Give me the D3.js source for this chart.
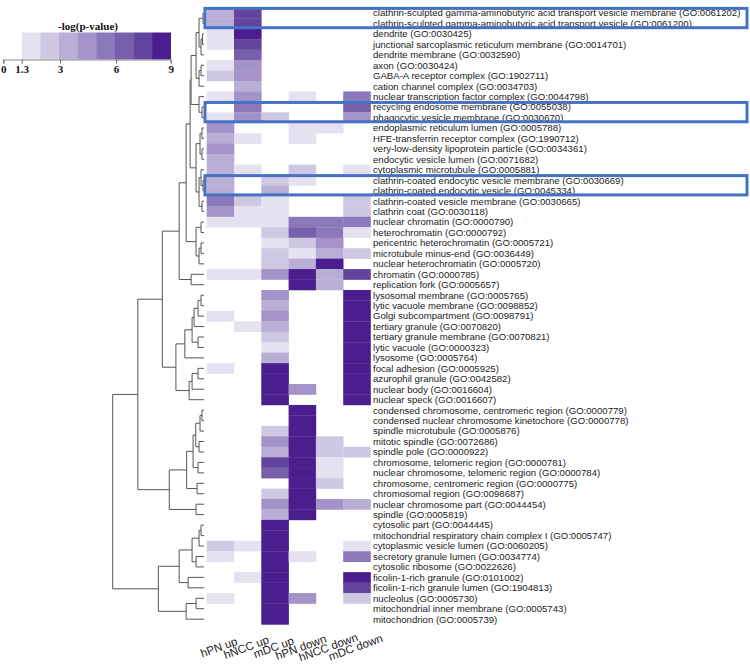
<!DOCTYPE html>
<html><head><meta charset="utf-8">
<script src="https://cdn.jsdelivr.net/npm/d3@7"></script>
<style>body{margin:0;background:#fff}svg{display:block}</style>
</head><body>
<svg id="c" width="750" height="667"></svg>
<script>
const terms = [
"clathrin-sculpted gamma-aminobutyric acid transport vesicle membrane (GO:0061202)",
"clathrin-sculpted gamma-aminobutyric acid transport vesicle (GO:0061200)",
"dendrite (GO:0030425)",
"junctional sarcoplasmic reticulum membrane (GO:0014701)",
"dendrite membrane (GO:0032590)",
"axon (GO:0030424)",
"GABA-A receptor complex (GO:1902711)",
"cation channel complex (GO:0034703)",
"nuclear transcription factor complex (GO:0044798)",
"recycling endosome membrane (GO:0055038)",
"phagocytic vesicle membrane (GO:0030670)",
"endoplasmic reticulum lumen (GO:0005788)",
"HFE-transferrin receptor complex (GO:1990712)",
"very-low-density lipoprotein particle (GO:0034361)",
"endocytic vesicle lumen (GO:0071682)",
"cytoplasmic microtubule (GO:0005881)",
"clathrin-coated endocytic vesicle membrane (GO:0030669)",
"clathrin-coated endocytic vesicle (GO:0045334)",
"clathrin-coated vesicle membrane (GO:0030665)",
"clathrin coat (GO:0030118)",
"nuclear chromatin (GO:0000790)",
"heterochromatin (GO:0000792)",
"pericentric heterochromatin (GO:0005721)",
"microtubule minus-end (GO:0036449)",
"nuclear heterochromatin (GO:0005720)",
"chromatin (GO:0000785)",
"replication fork (GO:0005657)",
"lysosomal membrane (GO:0005765)",
"lytic vacuole membrane (GO:0098852)",
"Golgi subcompartment (GO:0098791)",
"tertiary granule (GO:0070820)",
"tertiary granule membrane (GO:0070821)",
"lytic vacuole (GO:0000323)",
"lysosome (GO:0005764)",
"focal adhesion (GO:0005925)",
"azurophil granule (GO:0042582)",
"nuclear body (GO:0016604)",
"nuclear speck (GO:0016607)",
"condensed chromosome, centromeric region (GO:0000779)",
"condensed nuclear chromosome kinetochore (GO:0000778)",
"spindle microtubule (GO:0005876)",
"mitotic spindle (GO:0072686)",
"spindle pole (GO:0000922)",
"chromosome, telomeric region (GO:0000781)",
"nuclear chromosome, telomeric region (GO:0000784)",
"chromosome, centromeric region (GO:0000775)",
"chromosomal region (GO:0098687)",
"nuclear chromosome part (GO:0044454)",
"spindle (GO:0005819)",
"cytosolic part (GO:0044445)",
"mitochondrial respiratory chain complex I (GO:0005747)",
"cytoplasmic vesicle lumen (GO:0060205)",
"secretory granule lumen (GO:0034774)",
"cytosolic ribosome (GO:0022626)",
"ficolin-1-rich granule (GO:0101002)",
"ficolin-1-rich granule lumen (GO:1904813)",
"nucleolus (GO:0005730)",
"mitochondrial inner membrane (GO:0005743)",
"mitochondrion (GO:0005739)"
];

const samples = ["hPN up","hNCC up","mDC up","hPN down","hNCC down","mDC down"];

// -log(p-value) per sample, one value per term (0 = not significant)
const hPNup = [3.7,3.7,1.8,1.8,0,1.8,2.7,0,1.8,0,1.8,4.6,3.7,4.6,3.7,3.7,3.7,3.7,5.6,4.6,
  1.8,0,0,0,0,1.8,0,0,0,1.8,0,0,0,0,1.8,0,0,0,0,0,0,0,0,0,0,0,0,0,0,0,0,2.7,1.8,0,0,0,1.8,0,0];
const hNCCup = [7.5,7.5,9,7.5,6.6,4.6,4.6,3.7,4.6,5.6,4.6,0,1.8,0,0,1.8,0,0,2.7,1.8,
  1.8,0,0,0,0,1.8,0,0,0,0,1.8,0,0,0,0,0,0,0,0,0,0,0,0,0,0,0,0,0,0,0,0,1.8,0,0,1.8,0,0,0,0];
const mDCup = [0,0,0,0,0,0,0,0,0,0,2.7,0,0,0,0,0,2.7,3.7,1.8,1.8,
  1.8,2.7,1.8,2.7,2.7,4.6,0,4.6,3.7,4.6,3.7,2.7,1.8,3.7,9,9,9,9,0,0,2.7,4.6,3.7,7.5,6.6,0,2.7,4.6,3.7,
  9,9,9,9,9,9,9,9,9,9];
const hPNdown = [0,0,0,0,0,0,0,0,1.8,0,0,1.8,1.8,0,0,2.7,1.8,0,0,0,
  5.6,6.6,2.7,1.8,3.7,9,9,0,0,0,0,0,0,0,0,0,4.6,0,9,9,9,9,9,9,9,9,9,9,9,
  0,0,0,1.8,0,0,0,4.6,0,0];
const hNCCdown = [0,0,0,0,0,0,0,0,0,0,0,1.8,0,0,0,0,0,0,0,0,
  5.6,5.6,4.6,3.7,9,3.7,3.7,0,0,0,0,0,0,0,0,0,0,0,0,0,0,2.7,2.7,1.8,1.8,2.7,0,4.6,0,
  0,0,0,0,0,0,0,0,0,0];
const mDCdown = [0,0,0,0,0,0,0,0,5.6,6.6,4.6,0,0,0,0,1.8,0,0,2.7,2.7,
  5.6,1.8,0,2.7,0,7.5,0,9,9,9,9,9,9,9,9,9,9,9,0,0,0,0,2.7,0,0,0,0,3.7,0,
  0,0,1.8,5.6,0,9,7.5,2.7,0,0];
const seriesValues = [hPNup, hNCCup, mDCup, hPNdown, hNCCdown, mDCdown];

const legendTicks = [0, 1.3, 3, 6, 9];
const legendTitle = "-log(p-value)";
const colorSteps = ["#e6e1f0","#cfc8e3","#b8aed6","#a393c9","#8c79bb","#765fab","#62449e","#4a1e8e"];

// hierarchical clustering: [mergeHeight, left, right]; leaves are term indices
const dendrogram =
[92,
  [66.7,
    [42,
      [25,
        [18,
          [14,
            [13,
              [8,
                [5, [1,0,1], [3,[1.5,2,3],4]],
                [5, [3,5,6], 7]
              ],
              [5, 8, [2,9,10]]
            ],
            [8,
              [4, [2,11,12], [2,13,14]],
              [5, [3,15,[1,16,17]], [2,18,19]]
            ]
          ],
          [8, [3,20,21], [5,[3,22,23],24]]
        ],
        [13, 25, 26]
      ],
      [28.3,
        [19.3, [12, [10,[6,[3,27,28],29],30], [6,31,32]], 33],
        [15, [12, [6,34,35], 36], 37]
      ]
    ],
    [35,
      [17.5,
        [11,
          [8.3, [4,[2,38,39],40], [5,41,42]],
          [6,43,44]
        ],
        [7,45,46]
      ],
      [8,47,48]
    ]
  ],
  [46,
    [25,
      [12, [5,[3,49,50],51], [8,52,53]],
      [16,54,55]
    ],
    [18, [8,56,57], 58]
  ]
];

const highlighted = [[0,1],[9,10],[16,17]];

const svg = d3.select("#c");
const x = d3.scaleBand().domain(samples).range([206.7, 370.5]);
const y = d3.scaleBand().domain(d3.range(terms.length)).range([7.8, 624.4]);
const color = d3.scaleQuantize().domain([1.3, 9]).range(colorSteps);

// heatmap cells
const cells = [];
samples.forEach((s, j) => seriesValues[j].forEach((v, i) => { if (v >= 1.3) cells.push({s, i, v}); }));
svg.append("g").selectAll("rect").data(cells).join("rect")
  .attr("x", d => x(d.s)).attr("y", d => y(d.i))
  .attr("width", x.bandwidth()+0.3).attr("height", y.bandwidth()+0.3)
  .attr("fill", d => color(d.v));

// row labels
svg.append("g").selectAll("text").data(terms).join("text")
  .attr("x", 373).attr("y", (d, i) => y(i) + y.bandwidth()/2)
  .attr("dy", "0.35em")
  .attr("font-family", "Liberation Sans, Arial, sans-serif")
  .attr("font-size", 9.6).attr("fill", "#222")
  .text(d => d);

// column labels
svg.append("g").selectAll("text").data(samples).join("text")
  .attr("transform", d => `translate(${x(d)+x.bandwidth()/2},651) rotate(-20)`)
  .attr("text-anchor", "middle")
  .attr("font-family", "Liberation Sans, Arial, sans-serif")
  .attr("font-size", 11.5).attr("fill", "#222")
  .text(d => d);

// dendrogram
const dx = d3.scaleLinear().domain([0, 92]).range([204, 112.7]);
const dg = svg.append("g").attr("fill", "none").attr("stroke", "#555").attr("stroke-width", 1);
function layout(n) {
  if (typeof n === "number") return {x: dx(0), y: y(n) + y.bandwidth()/2};
  const a = layout(n[1]), b = layout(n[2]);
  const px = dx(n[0]);
  dg.append("path").attr("d", `M${a.x},${a.y}H${px}V${b.y}H${b.x}`);
  return {x: px, y: (a.y + b.y)/2};
}
layout(dendrogram);

// highlight boxes
svg.append("g").selectAll("rect").data(highlighted).join("rect")
  .attr("x", 205).attr("y", d => y(d[0]) + 0.6)
  .attr("width", 542).attr("height", d => y(d[1]) + y.bandwidth() - y(d[0]) - 1.6)
  .attr("fill", "none").attr("stroke", "#4472c4").attr("stroke-width", 3);

// legend
const lx = d3.scaleLinear().domain([0, 1.3, 3, 6, 9]).range([3.3, 21.7, 60, 116, 170.7]);
const lg = svg.append("g");
const bw = (lx(9) - lx(1.3)) / colorSteps.length;
lg.selectAll("rect").data(colorSteps).join("rect")
  .attr("x", (d, i) => lx(1.3) + i*bw).attr("y", 32.5)
  .attr("width", bw + 0.3).attr("height", 27)
  .attr("fill", d => d);
const axis = d3.axisBottom(lx).tickValues(legendTicks).tickSize(4).tickFormat(d3.format("~g"));
const ag = lg.append("g").attr("transform", "translate(0,59.5)").call(axis);
ag.select(".domain").attr("stroke", "#888");
ag.selectAll(".tick line").attr("stroke", "#666");
ag.selectAll(".tick text").attr("font-family", "Liberation Serif, Times New Roman, serif")
  .attr("font-weight", "bold").attr("font-size", 11).attr("fill", "#111").attr("y", 6);
lg.append("text").attr("x", 88).attr("y", 30).attr("text-anchor", "middle")
  .attr("font-family", "Liberation Serif, Times New Roman, serif").attr("font-weight", "bold")
  .attr("font-size", 11).attr("fill", "#111").text(legendTitle);
</script>
</body></html>
